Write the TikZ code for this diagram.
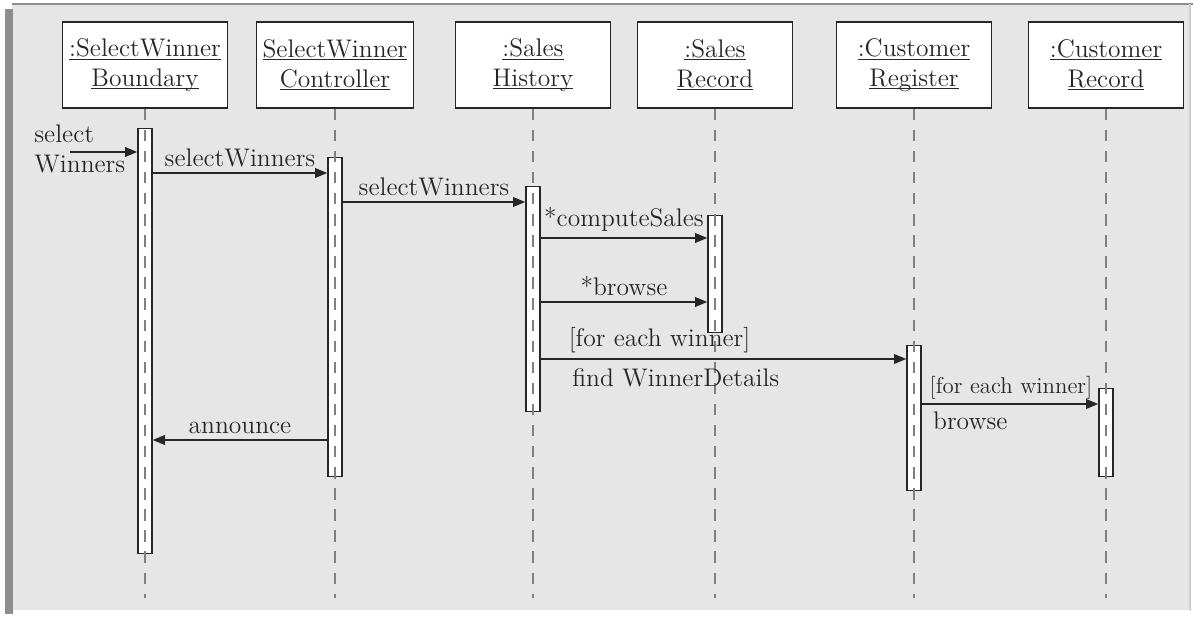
\documentclass[tikz,border=0pt]{standalone}
\usepackage{tikz}
\usetikzlibrary{arrows.meta, positioning}
\definecolor{panel}{HTML}{E6E6E7}
\definecolor{rim}{HTML}{8E8E8E}
\definecolor{ink}{HTML}{262626}
\newcommand{\objline}[1]{\underline{\smash{#1}}\vphantom{#1}}

\begin{document}
\begin{tikzpicture}[
		x=0.02cm, y=-0.02cm,
		font=\fontsize{14.5}{17}\selectfont,
		text=ink,
		obj/.style={
			draw=ink,
			fill=white,
			rectangle,
			align=center,
			minimum width=3.1cm,
			minimum height=1.72cm,
			line width=0.8pt
		},
		act/.style={
			draw=ink,
			fill=white,
			rectangle,
			anchor=north,
			minimum width=0.28cm,
			inner sep=0pt,
			line width=0.8pt
		},
		life/.style={draw=gray, line width=0.9pt, dash pattern=on 6.5pt off 5.5pt},
		msg/.style={-{Triangle[length=7pt, width=5.5pt]}, draw=ink, line width=1pt},
		lbl/.style={inner sep=3pt}
	]
	
	% Fondo
	\useasboundingbox (0,0) rectangle (1195,617);
	\fill[white] (0,0) rectangle (1195,617);
	\fill[panel] (12,4) rectangle (1190,611);
	\draw[rim, line width=1.2pt] (12,4) -- (1193,4);
	\fill[rim] (5,9) rectangle (13,614);
	\draw[rim!45, line width=0.6pt] (1190,4) -- (1190,611);
	\draw[white, line width=0.8pt] (13,611) -- (1190,611);
	
	% Objetos
	\node[obj, minimum width=3.3cm] (bnd) at (145,65) {\objline{:SelectWinner}\\\objline{Boundary}};
	\node[obj] (ctl) at (335,65) {\objline{SelectWinner}\\\objline{Controller}};
	\node[obj] (hist) at (533,65) {\objline{:Sales}\\\objline{History}};
	\node[obj] (srec) at (715,65) {\objline{:Sales}\\\objline{Record}};
	\node[obj] (reg) at (914,65) {\objline{:Customer}\\\objline{Register}};
	\node[obj] (crec) at (1106,65) {\objline{:Customer}\\\objline{Record}};
	
	% Activaciones
	\node[act, minimum height=8.5cm] (a1) at (145,128) {};
	\node[act, minimum height=6.38cm] (a2) at (335,157) {};
	\node[act, minimum height=4.5cm] (a3) at (533,186) {};
	\node[act, minimum height=2.34cm] (a4) at (715,215) {};
	\node[act, minimum height=2.9cm] (a5) at (914,345) {};
	\node[act, minimum height=1.76cm] (a6) at (1106,388) {};
	
	% Lineas de vida
	\coordinate (foot) at (0,598);
	\foreach \o in {bnd, ctl, hist, srec, reg, crec}
		\draw[life] (\o.south) -- (\o.south |- foot);
	
	% Mensajes
	\coordinate (trig) at (70,152);
	\node[align=left, anchor=west, inner sep=0pt] (trigtxt) at (34,149) {select\\Winners};
	\draw[msg] (trig) -- (a1.west |- trig);
	
	\coordinate (m1) at (0,173);
	\draw[msg] (a1.east |- m1) -- node[above, lbl] {selectWinners} (a2.west |- m1);
	
	\coordinate (m2) at (0,202);
	\draw[msg] (a2.east |- m2) -- node[above, lbl] {selectWinners} (a3.west |- m2);
	
	\coordinate (m3) at (0,238);
	\draw[msg] (a3.east |- m3) -- node[above, lbl] {*computeSales} (a4.west |- m3);
	
	\coordinate (m4) at (0,302);
	\draw[msg] (a3.east |- m4) -- node[above, lbl] {*browse} (a4.west |- m4);
	
	\coordinate (m5) at (0,359);
	\draw[msg] (a3.east |- m5) --
		node[pos=0.06, above right, lbl] {[for each winner]}
		node[pos=0.06, below right, inner sep=5pt] {find WinnerDetails} (a5.west |- m5);
	
	\coordinate (m6) at (0,404);
	\draw[msg] (a5.east |- m6) --
		node[pos=0.02, above right, inner sep=2pt, font=\fontsize{13}{15}\selectfont] {[for each winner]}
		node[pos=0.02, below right, inner sep=4pt] {browse} (a6.west |- m6);
	
	\coordinate (m7) at (0,440);
	\draw[msg] (a2.west |- m7) -- node[above, lbl] {announce} (a1.east |- m7);
	
\end{tikzpicture}
\end{document}
